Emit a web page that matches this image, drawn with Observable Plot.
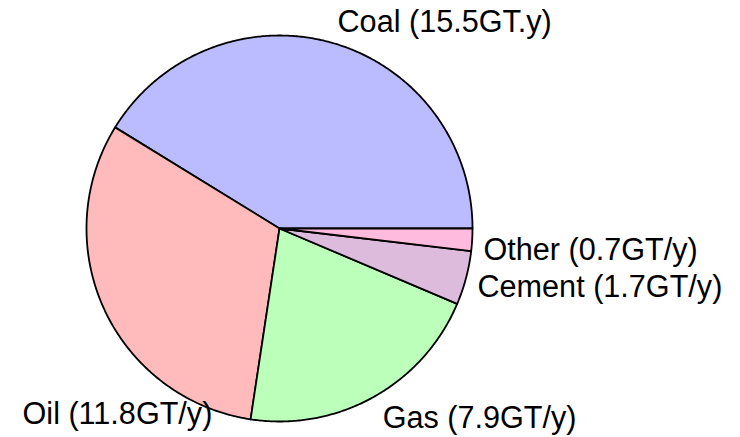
<!DOCTYPE html>
<html>
<head>
<meta charset="utf-8">
<script src="https://cdn.jsdelivr.net/npm/d3@7"></script>
<script src="https://cdn.jsdelivr.net/npm/@observablehq/plot@0.6"></script>
<style>
  html, body { margin: 0; padding: 0; background: #ffffff; }
</style>
</head>
<body>
<div id="chart"></div>
<script>
// Data
const names = ["Coal", "Oil", "Gas", "Cement", "Other"];
const values = [15.5, 11.8, 7.9, 1.7, 0.7];
const labels = ["Coal (15.5GT.y)", "Oil (11.8GT/y)", "Gas (7.9GT/y)", "Cement (1.7GT/y)", "Other (0.7GT/y)"];
const colors = ["#bbbbff", "#ffbbbb", "#bbffbb", "#ddbbdd", "#ffbbdd"];
// label placement: angle (deg, counterclockwise from east) and radius (fraction of pie radius)
const labelAngle = [74.3, 250.1, 298.5, 343.5, 354.0];
const labelRadius = [1.111, 1.022, 1.12, 1.07, 1.063];
const labelAnchor = ["start", "end", "start", "start", "start"];

// Layout
const W = 740, H = 437, cx = 279, cy = 228, R = 193;

const total = d3.sum(values);
let acc = 0;
const slices = names.map((n, i) => {
  const a0 = acc / total * 2 * Math.PI;
  acc += values[i];
  const a1 = acc / total * 2 * Math.PI;
  return {name: n, a0, a1, color: colors[i]};
});

function polygon(s) {
  const pts = [{x: 0, y: 0}];
  const steps = Math.max(4, Math.ceil((s.a1 - s.a0) / (Math.PI / 360)));
  for (let k = 0; k <= steps; k++) {
    const a = s.a0 + (s.a1 - s.a0) * k / steps;
    pts.push({x: Math.cos(a), y: Math.sin(a)});
  }
  pts.push({x: 0, y: 0});
  return pts;
}

const labelData = names.map((n, i) => {
  const a = labelAngle[i] * Math.PI / 180;
  return {
    text: labels[i],
    x: labelRadius[i] * Math.cos(a),
    y: labelRadius[i] * Math.sin(a),
    anchor: labelAnchor[i]
  };
});

const sliceMarks = slices.map(s => Plot.line(polygon(s), {
  x: "x", y: "y", fill: s.color, stroke: "#000000", strokeWidth: 1.8,
  strokeLinejoin: "round", curve: "linear"
}));

const textStyle = {
  x: "x", y: "y", text: "text", fontSize: 30.6,
  fontFamily: "'Liberation Sans', Arial, Helvetica, sans-serif", fill: "#000000"
};

const chart = Plot.plot({
  width: W,
  height: H,
  marginTop: 0, marginRight: 0, marginBottom: 0, marginLeft: 0,
  x: {domain: [-cx / R, (W - cx) / R], range: [0, W], axis: null},
  y: {domain: [-(H - cy) / R, cy / R], range: [H, 0], axis: null},
  style: {background: "#ffffff"},
  marks: [
    ...sliceMarks,
    Plot.text(labelData.filter(d => d.anchor === "start"), {...textStyle, textAnchor: "start"}),
    Plot.text(labelData.filter(d => d.anchor === "end"), {...textStyle, textAnchor: "end"})
  ]
});

document.getElementById("chart").appendChild(chart);
</script>
</body>
</html>
